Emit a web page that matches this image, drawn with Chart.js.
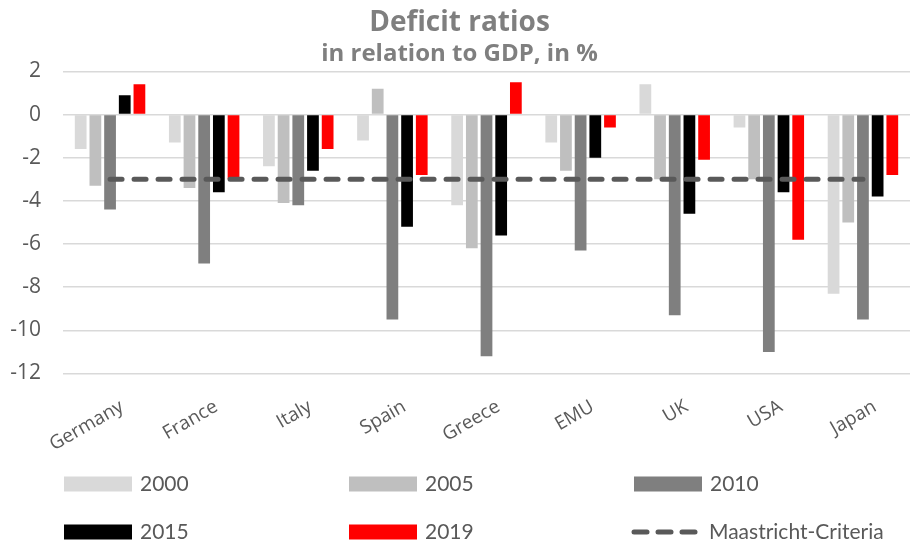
<!DOCTYPE html>
<html>
<head>
<meta charset="utf-8">
<script src="https://cdn.jsdelivr.net/npm/chart.js@4.4.1/dist/chart.umd.min.js"></script>
<style>
  html, body { margin: 0; padding: 0; background: #fff; }
  #wrap { width: 914px; height: 547px; position: relative; }
</style>
</head>
<body>
<div id="wrap"><canvas id="grafico"></canvas></div>
<script>
  // Deficit / surplus in % of GDP
  var paises = ['Germany', 'France', 'Italy', 'Spain', 'Greece', 'EMU', 'UK', 'USA', 'Japan'];
  var anos = ['2000', '2005', '2010', '2015', '2019'];
  var d2000 = [-1.6, -1.3, -2.4, -1.2, -4.2, -1.3, 1.4, -0.6, -8.3];
  var d2005 = [-3.3, -3.4, -4.1, 1.2, -6.2, -2.6, -3.0, -3.0, -5.0];
  var d2010 = [-4.4, -6.9, -4.2, -9.5, -11.2, -6.3, -9.3, -11.0, -9.5];
  var d2015 = [0.9, -3.6, -2.6, -5.2, -5.6, -2.0, -4.6, -3.6, -3.8];
  var d2019 = [1.4, -3.0, -1.6, -2.8, 1.5, -0.6, -2.1, -5.8, -2.8];
  var maastricht = [-3, -3, -3, -3, -3, -3, -3, -3, -3];
  var eixoY = { min: -12, max: 2, passo: 2 };

  var cores = ['#d9d9d9', '#bfbfbf', '#7f7f7f', '#000000', '#ff0000'];
  var valores = [d2000, d2005, d2010, d2015, d2019];
  var textoCor = '#595959';
  var fonteEixo = '"Open Sans", sans-serif';
  var fonteLegenda = 'Lato, "Open Sans", sans-serif';

  var barras = anos.map(function (ano, i) {
    return {
      type: 'bar',
      label: ano,
      data: valores[i],
      backgroundColor: cores[i],
      borderWidth: 0,
      barPercentage: 0.8,
      categoryPercentage: 0.78,
      order: 1
    };
  });

  var linha = {
    type: 'line',
    label: 'Maastricht-Criteria',
    data: maastricht,
    borderColor: textoCor,
    borderWidth: 5,
    borderDash: [12, 12],
    borderCapStyle: 'round',
    pointRadius: 0,
    fill: false,
    order: 0
  };

  // legend in a 3 x 2 grid under the axis
  var legendaGrade = {
    id: 'legendaGrade',
    afterDraw: function (chart) {
      var ctx = chart.ctx;
      var colX = [64, 349, 634];
      var rowY = [484, 532];
      var itens = chart.data.datasets.filter(function (ds) { return ds.type === 'bar'; })
        .map(function (ds) { return { texto: ds.label, cor: ds.backgroundColor, linha: false }; });
      itens.push({ texto: linha.label, cor: linha.borderColor, linha: true });
      ctx.save();
      ctx.font = '21px ' + fonteLegenda;
      ctx.textBaseline = 'middle';
      itens.forEach(function (it, i) {
        var x = colX[i % 3];
        var y = rowY[Math.floor(i / 3)];
        if (it.linha) {
          ctx.strokeStyle = it.cor;
          ctx.lineWidth = 5;
          ctx.lineCap = 'round';
          [0, 1, 2].forEach(function (k) {
            ctx.beginPath();
            ctx.moveTo(x + k * 24, y);
            ctx.lineTo(x + k * 24 + 13, y);
            ctx.stroke();
          });
          ctx.fillStyle = textoCor;
          ctx.fillText(it.texto, x + 75, y);
        } else {
          ctx.fillStyle = it.cor;
          ctx.fillRect(x, y - 7.5, 68, 15);
          ctx.fillStyle = textoCor;
          ctx.fillText(it.texto, x + 76, y);
        }
      });
      ctx.restore();
    }
  };

  function desenhar() {
    var ctx = document.getElementById('grafico').getContext('2d');
    new Chart(ctx, {
      data: {
        labels: paises,
        datasets: [linha].concat(barras)
      },
      plugins: [legendaGrade],
      options: {
        responsive: true,
        maintainAspectRatio: false,
        animation: false,
        layout: { padding: { left: 9, right: 4, top: 0, bottom: 77 } },
        plugins: {
          legend: { display: false },
          tooltip: { enabled: false },
          title: {
            display: true,
            text: 'Deficit ratios',
            color: '#7f7f7f',
            font: { family: fonteEixo, size: 28, weight: 'bold' },
            padding: { top: 6, bottom: 0 }
          },
          subtitle: {
            display: true,
            text: 'in relation to GDP, in %',
            color: '#7f7f7f',
            font: { family: fonteEixo, size: 24, weight: 'bold' },
            padding: { top: 0, bottom: 3 }
          }
        },
        scales: {
          x: {
            grid: { display: false },
            border: { display: false },
            ticks: {
              color: textoCor,
              font: { family: fonteEixo, size: 19 },
              minRotation: 30,
              maxRotation: 30,
              labelOffset: 12,
              padding: 14
            },
            // rotated labels already fit, no extra side padding
            afterFit: function (scale) {
              scale.paddingLeft = 0;
              scale.paddingRight = 0;
            }
          },
          y: {
            min: eixoY.min,
            max: eixoY.max,
            border: { display: false },
            grid: { color: '#d9d9d9', lineWidth: 1.5, drawTicks: false },
            ticks: {
              stepSize: eixoY.passo,
              color: textoCor,
              font: { family: fonteEixo, size: 21 },
              padding: 22
            },
            afterFit: function (scale) {
              scale.width = 54;
            }
          }
        }
      }
    });
  }

  Promise.all([
    document.fonts.load('20px "Open Sans"'),
    document.fonts.load('bold 28px "Open Sans"'),
    document.fonts.load('21px Lato')
  ]).then(desenhar, desenhar);
</script>
</body>
</html>
